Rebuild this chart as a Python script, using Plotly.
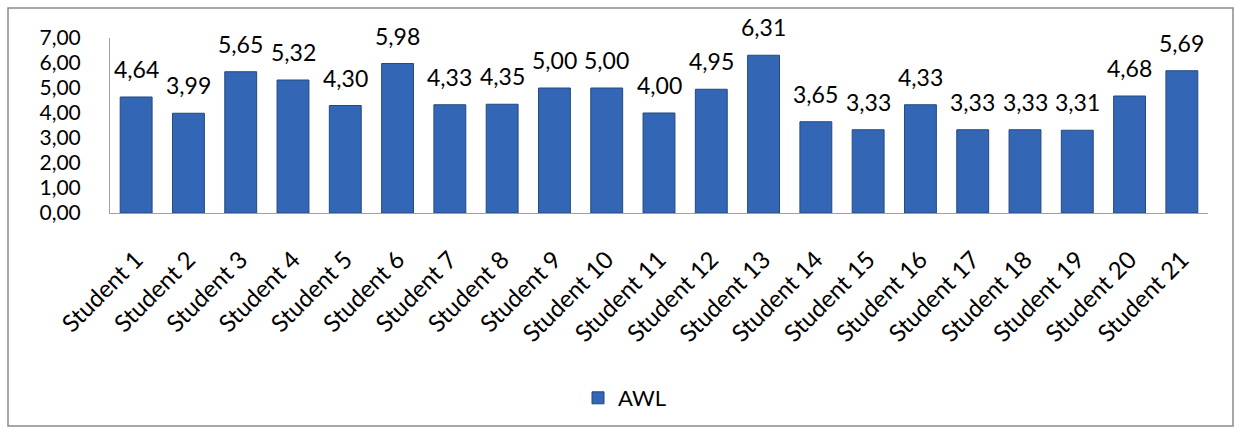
import plotly.graph_objects as go

categories = [f"Student {i}" for i in range(1, 22)]
awl = [4.64, 3.99, 5.65, 5.32, 4.30, 5.98, 4.33, 4.35, 5.00, 5.00, 4.00,
       4.95, 6.31, 3.65, 3.33, 4.33, 3.33, 3.33, 3.31, 4.68, 5.69]
y_ticks = [0, 1, 2, 3, 4, 5, 6, 7]

W, H = 1242, 434
L, R, T, B = 110, 1208, 38, 213

def px_x(p):
    return (p - L) / (R - L)

def px_y(p):
    return (B - p) / (B - T)

FONT = "Lato, Carlito, Calibri, sans-serif"

fig = go.Figure()
fig.add_trace(go.Bar(
    x=categories, y=awl, name="AWL",
    marker=dict(color="#3366b5", line=dict(color="#23497f", width=1)),
    width=0.61,
))

for c, v in zip(categories, awl):
    fig.add_annotation(x=c, y=v, text=f"{v:.2f}".replace(".", ","),
                       showarrow=False, yanchor="bottom", yshift=12,
                       font=dict(size=23, color="#000000", family=FONT))

fig.update_layout(
    width=W, height=H,
    margin=dict(l=L, r=W - R, t=T, b=H - B),
    plot_bgcolor="white", paper_bgcolor="white",
    separators=", ",
    showlegend=True,
    legend=dict(orientation="h", x=px_x(625), xanchor="center", y=px_y(398), yanchor="middle",
                font=dict(size=22, family=FONT, color="#000000")),
    font=dict(family=FONT),
)
fig.update_xaxes(showline=True, linecolor="#a0a0a0", linewidth=1,
                 tickangle=-45, tickfont=dict(size=24, family=FONT, color="#000000"),
                 ticks="", showgrid=False, ticklabelstandoff=22)
fig.update_yaxes(range=[0, 7], tickvals=y_ticks, tickformat=".2f",
                 showline=True, linecolor="#a0a0a0", linewidth=1,
                 showgrid=False, ticks="", ticklabelstandoff=24,
                 tickfont=dict(size=21, family=FONT, color="#000000"))

fig.add_shape(type="rect", xref="paper", yref="paper",
              x0=px_x(8), x1=px_x(1233), y0=px_y(426), y1=px_y(8),
              line=dict(color="#8a8a8a", width=1.5), layer="below")

fig.write_html("out.html")
